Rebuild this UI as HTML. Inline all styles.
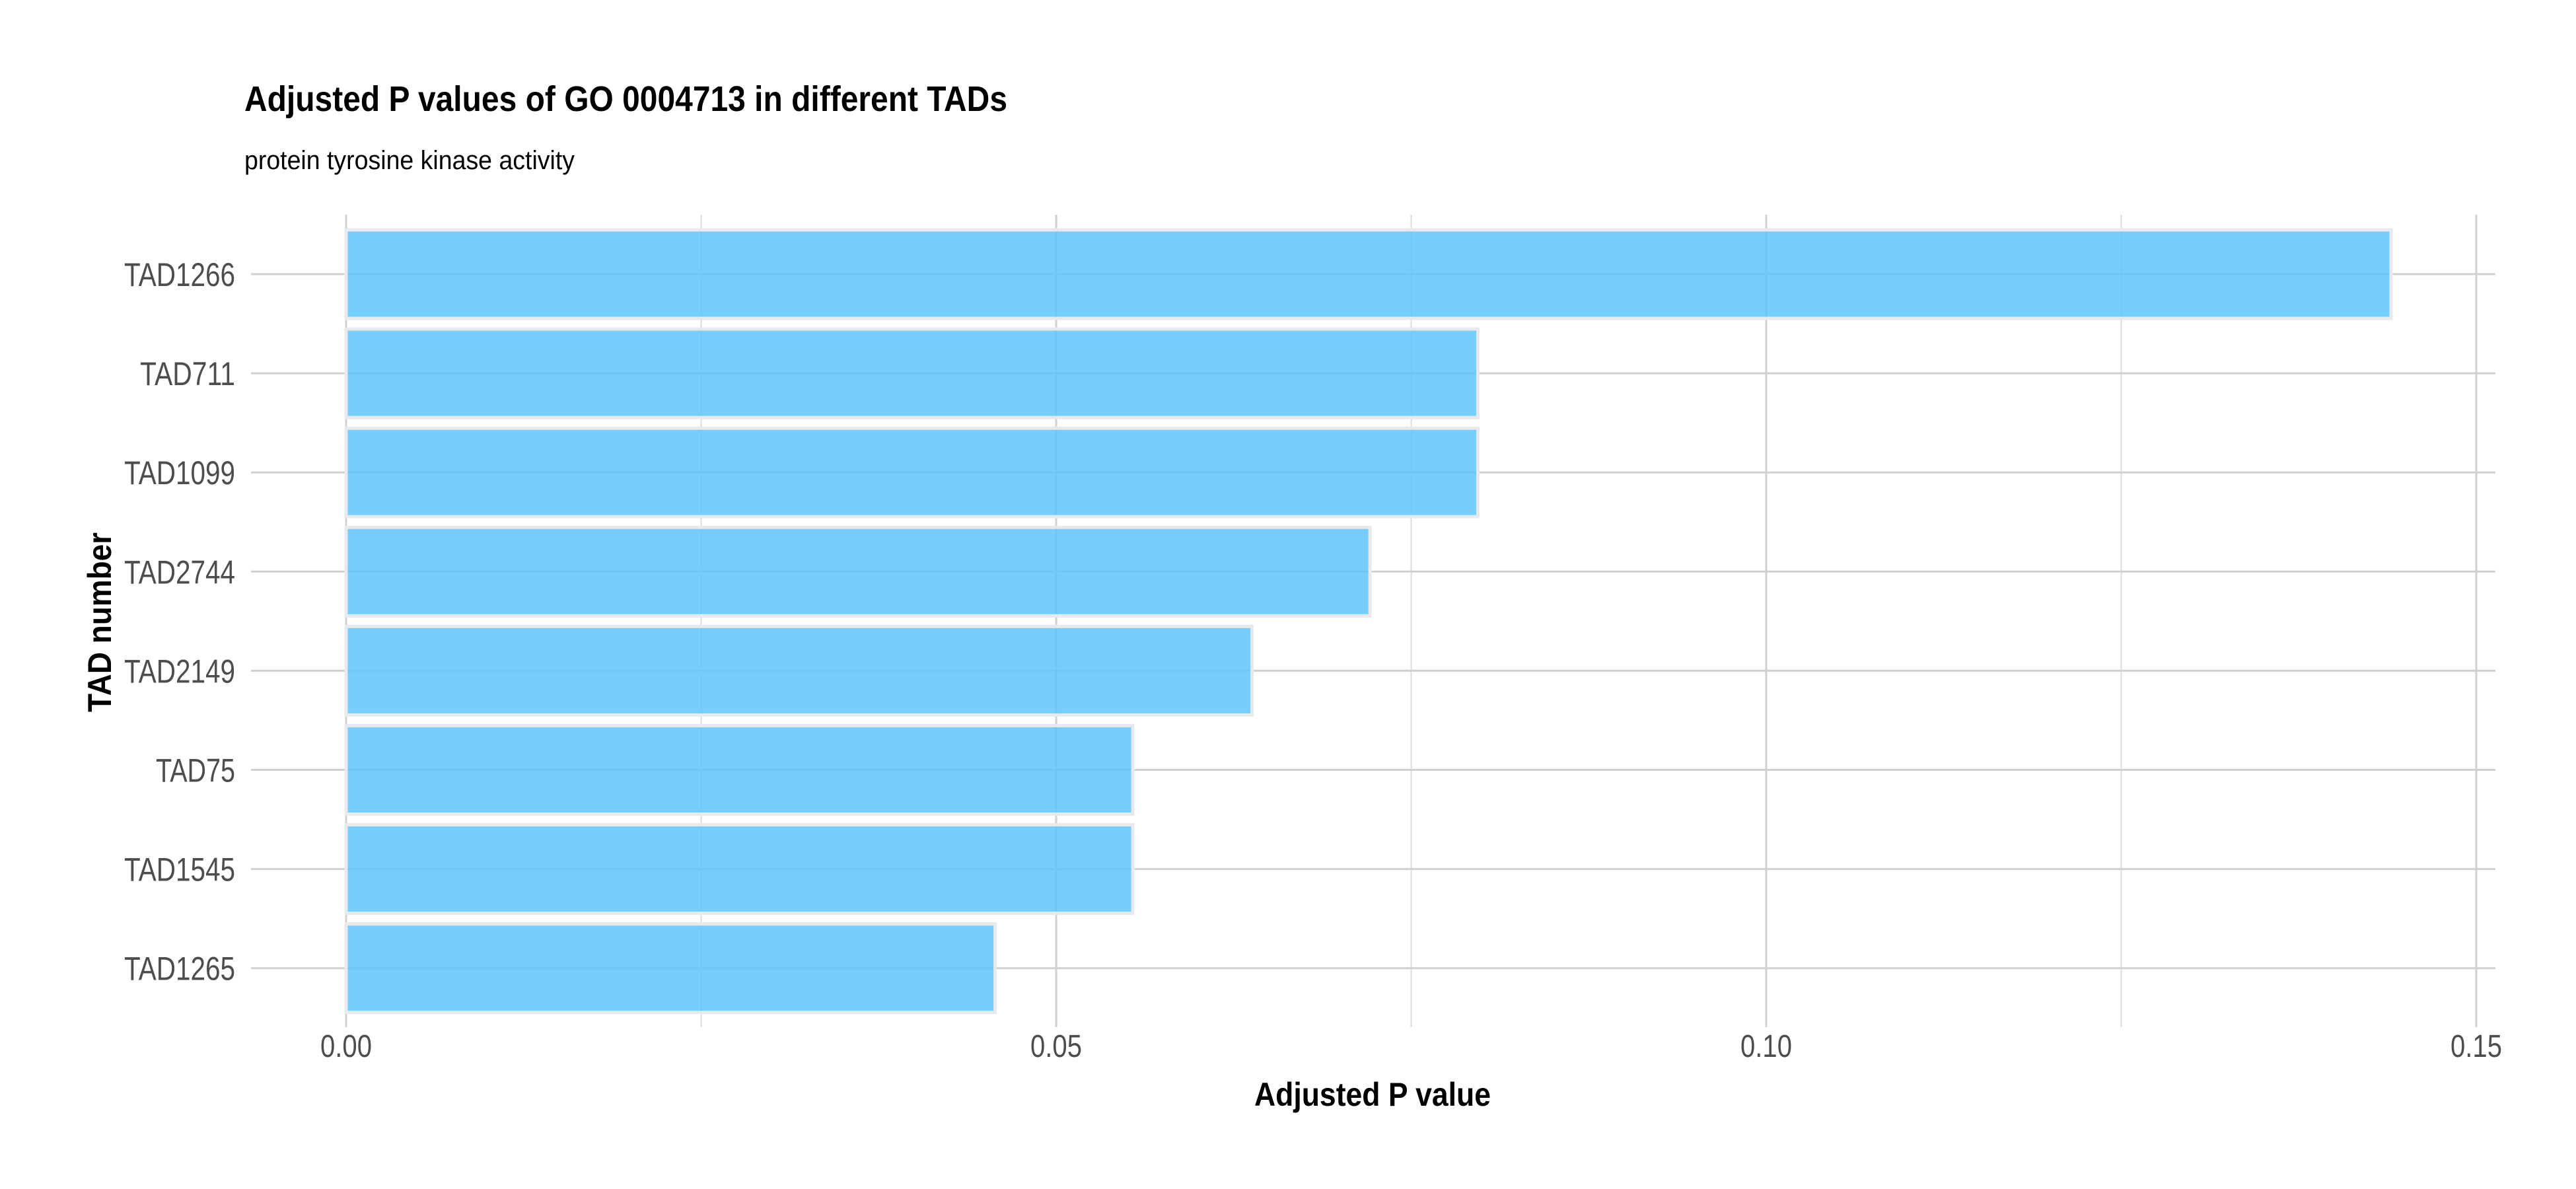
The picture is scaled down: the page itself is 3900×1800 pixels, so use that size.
<!DOCTYPE html>
<html><head><meta charset="utf-8"><style>html,body{margin:0;padding:0;background:#fff}svg{display:block}</style></head>
<body>
<svg id="chart" width="3900" height="1800" xmlns="http://www.w3.org/2000/svg" font-family="'Liberation Sans', sans-serif">
<text x="370" y="168" font-size="54" font-weight="bold" fill="#000" textLength="1155" lengthAdjust="spacingAndGlyphs">Adjusted P values of GO 0004713 in different TADs</text>
<text x="370" y="256" font-size="40" fill="#000" textLength="500" lengthAdjust="spacingAndGlyphs">protein tyrosine kinase activity</text>
<g id="grid"></g><g id="bars"></g><g id="ylabels"></g><g id="xlabels"></g>
<text x="2078" y="1674" font-size="50" font-weight="bold" text-anchor="middle" textLength="358" lengthAdjust="spacingAndGlyphs">Adjusted P value</text>
<text transform="translate(168,942) rotate(-90)" font-size="50" font-weight="bold" text-anchor="middle" textLength="272" lengthAdjust="spacingAndGlyphs">TAD number</text>
</svg>
<script>
const categories = ["TAD1266","TAD711","TAD1099","TAD2744","TAD2149","TAD75","TAD1545","TAD1265"];
const values = [0.1440,0.0797,0.0797,0.0721,0.0638,0.0554,0.0554,0.0457];
const xTicks = [0,0.05,0.10,0.15];
const xTickLabels = ["0.00","0.05","0.10","0.15"];
const xMinor = [0.025,0.075,0.125];
const NS="http://www.w3.org/2000/svg";
const x0=524, pxPerUnit=1075/0.05, yFirst=415, band=150.1, panelTop=325, panelBot=1555;
const xs=v=>x0+v*pxPerUnit;
const ys=i=>yFirst+i*band;
function mk(tag,attrs,parent){const e=document.createElementNS(NS,tag);for(const k in attrs)e.setAttribute(k,attrs[k]);parent.appendChild(e);return e;}
const grid=document.getElementById('grid'),bars=document.getElementById('bars'),yl=document.getElementById('ylabels'),xl=document.getElementById('xlabels');
xMinor.forEach(v=>{const l=mk('line',{x1:xs(v),x2:xs(v),y1:panelTop,y2:panelBot,stroke:'#dcdcdc','stroke-width':2},grid);

});
xTicks.forEach((v,i)=>{const l=mk('line',{x1:xs(v),x2:xs(v),y1:panelTop,y2:panelBot,stroke:'#d0d0d0','stroke-width':3},grid);


const t=mk('text',{x:xs(v),y:1600,'font-size':48,fill:'#4d4d4d','text-anchor':'middle',textLength:78,lengthAdjust:'spacingAndGlyphs'},xl);
t.textContent=xTickLabels[i];

});
categories.forEach((c,i)=>{const y=ys(i);
const l=mk('line',{x1:380,x2:3778,y1:y,y2:y,stroke:'#d0d0d0','stroke-width':3},grid);


const h=134;
const r=mk('rect',{x:xs(0),y:y-h/2,width:xs(values[i])-xs(0),height:h,fill:'#5ec5fc','fill-opacity':0.85,stroke:'#e6eaec','stroke-width':5},bars);


const t=mk('text',{x:356,y:y+18,'font-size':50,fill:'#4d4d4d','text-anchor':'end',textLength:c.length*24,lengthAdjust:'spacingAndGlyphs'},yl);
t.textContent=c;

});
</script>
</body></html>
